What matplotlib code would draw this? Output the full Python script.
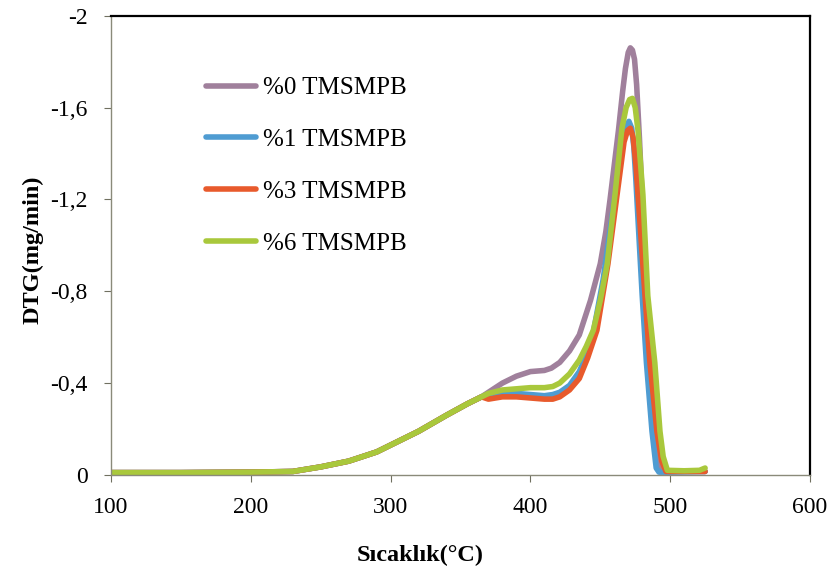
import matplotlib
matplotlib.use("Agg")
import matplotlib.pyplot as plt

# DTG curves (mg/min, plotted as negative values) vs temperature (°C)
base_t = [100, 150, 200, 230, 250, 270, 290, 300, 320, 340, 355, 365]
base_v = [0.010, 0.010, 0.012, 0.015, 0.035, 0.060, 0.100, 0.130, 0.190, 0.260, 0.310, 0.340]

t_pct0 = [370, 380, 390, 400, 410, 415, 421, 428, 435, 443, 450, 454, 457, 460,
          463, 466, 468, 470, 471.5, 473, 474.5, 476, 478, 480, 483, 486, 489,
          492, 495, 500, 525]
v_pct0 = [0.360, 0.400, 0.430, 0.450, 0.455, 0.465, 0.490, 0.540, 0.610, 0.760,
          0.920, 1.060, 1.200, 1.350, 1.500, 1.670, 1.770, 1.840, 1.860, 1.850,
          1.810, 1.700, 1.470, 1.200, 0.800, 0.450, 0.180, 0.040, 0.015, 0.015,
          0.015]

t_pct1 = [370, 380, 390, 400, 410, 416, 421, 428, 435, 440, 445, 452, 459, 465,
          468, 470.5, 472.5, 474, 475.5, 478, 480, 483, 487, 490, 492, 500, 525]
v_pct1 = [0.350, 0.355, 0.355, 0.350, 0.345, 0.350, 0.360, 0.390, 0.450, 0.520,
          0.620, 0.850, 1.150, 1.420, 1.510, 1.540, 1.510, 1.430, 1.280, 1.000,
          0.780, 0.490, 0.190, 0.030, 0.012, 0.012, 0.015]

t_pct3 = [370, 380, 390, 400, 410, 416, 421, 428, 435, 441, 447.6, 455.5, 462,
          467, 469.5, 471.5, 473.5, 475.5, 477, 479.5, 482, 485.5, 490.5, 494,
          497, 510, 525]
v_pct3 = [0.330, 0.340, 0.340, 0.335, 0.330, 0.330, 0.340, 0.370, 0.420, 0.510,
          0.630, 0.920, 1.220, 1.450, 1.500, 1.510, 1.470, 1.350, 1.220, 1.000,
          0.780, 0.490, 0.190, 0.060, 0.015, 0.015, 0.015]

t_pct6 = [370, 380, 390, 400, 410, 416, 421, 428, 435, 440, 445, 450, 455,
          460.5, 465.5, 468.5, 471, 473, 475, 477, 480.5, 484, 489, 492.7, 495,
          498, 510, 521, 525]
v_pct6 = [0.355, 0.370, 0.375, 0.380, 0.380, 0.385, 0.400, 0.440, 0.500, 0.560,
          0.630, 0.760, 0.920, 1.220, 1.510, 1.600, 1.635, 1.640, 1.600, 1.500,
          1.220, 0.780, 0.490, 0.190, 0.080, 0.020, 0.018, 0.020, 0.030]

labels = ["%0 TMSMPB", "%1 TMSMPB", "%3 TMSMPB", "%6 TMSMPB"]
colors = ["#a0809c", "#4f9cd2", "#e85a2c", "#a9c83c"]

y_ticks = [0, -0.4, -0.8, -1.2, -1.6, -2]
y_ticklabels = ["0", "-0,4", "-0,8", "-1,2", "-1,6", "-2"]
x_ticks = [100, 200, 300, 400, 500, 600]

plt.rcParams["font.family"] = ["Liberation Serif", "DejaVu Serif"]

fig = plt.figure(figsize=(8.29, 5.82), dpi=100)
ax = fig.add_axes([0.134, 0.184, 0.843, 0.789])

series = [(t_pct0, v_pct0), (t_pct1, v_pct1), (t_pct3, v_pct3), (t_pct6, v_pct6)]
for (t, v), lab, col in zip(series, labels, colors):
    ts = base_t + t
    vs = [-val for val in base_v + v]
    ax.plot(ts, vs, color=col, lw=4.0, label=lab, solid_capstyle="round",
            solid_joinstyle="round")

ax.set_xlim(100, 600)
ax.set_ylim(0, -2)
ax.set_xticks(x_ticks)
ax.set_yticks(y_ticks)
ax.set_yticklabels(y_ticklabels)

ax.tick_params(axis="x", direction="out", length=5, pad=11, labelsize=17,
               color="#707060")
ax.tick_params(axis="y", direction="out", length=5, pad=12, labelsize=17,
               color="#707060")

for side in ["left", "bottom"]:
    ax.spines[side].set_color("#8a8a7a")
    ax.spines[side].set_linewidth(1.0)
for side in ["top", "right"]:
    ax.spines[side].set_color("black")
    ax.spines[side].set_linewidth(1.6)

ax.set_xlabel("Sıcaklık(°C)", fontsize=17.5, fontweight="bold")
ax.xaxis.set_label_coords(0.442, -0.153)
ax.set_ylabel("DTG(mg/min)", fontsize=17.5, fontweight="bold")
ax.yaxis.set_label_coords(-0.097, 0.49)

leg = ax.legend(loc="upper left", bbox_to_anchor=(0.1365, 0.867), frameon=False,
                fontsize=18, handlelength=2.0, handletextpad=0.28,
                labelspacing=1.17, borderpad=0, borderaxespad=0)
for line in leg.get_lines():
    line.set_linewidth(4)

fig.savefig("out.png", dpi=100)
